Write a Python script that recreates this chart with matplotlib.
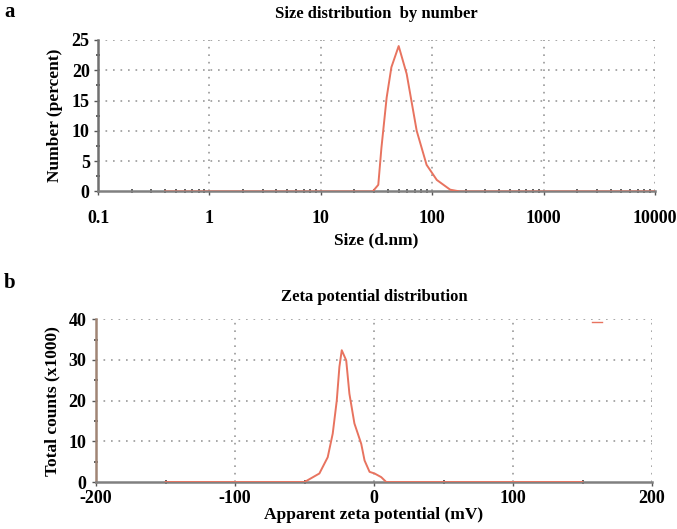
import matplotlib
matplotlib.use("Agg")
import matplotlib.pyplot as plt
from matplotlib.ticker import FixedLocator, NullFormatter, LogLocator

plt.rcParams['font.family'] = ['Liberation Serif', 'DejaVu Serif']
plt.rcParams['font.weight'] = 'bold'
plt.rcParams['axes.unicode_minus'] = False

# Panel a: size distribution by number
size_nm = [0.4, 29.2, 32.8, 35, 39, 43, 50, 59, 72.6, 89, 110, 145, 178, 10000]
number_pct = [0, 0, 1.1, 7.2, 15.5, 20.5, 24, 19.4, 10, 4.4, 1.9, 0.3, 0, 0]
size_ticks = [0.1, 1, 10, 100, 1000, 10000]
size_ticklabels = ['0.1', '1', '10', '100', '1000', '10000']
pct_ticks = [0, 5, 10, 15, 20, 25]

# Panel b: zeta potential distribution
zeta_mv = [-150, -50, -39.3, -33.3, -29.7, -26.8, -24.9, -23.2, -20.0, -17.7,
           -14.1, -9.2, -6.8, -3.2, 0.4, 5.2, 8.8, 150]
counts_k = [0, 0, 2.1, 6.1, 11.9, 20, 28.3, 32.4, 29.9, 21.7,
            14.4, 9.4, 5.3, 2.5, 2.1, 1.2, 0, 0]
zeta_ticks = [-200, -100, 0, 100, 200]
count_ticks = [0, 10, 20, 30, 40]

RED = '#e8735f'
GRID = dict(color='#9a9a9a', linestyle=(0, (1, 3.5)), linewidth=1.2)
TF = 13

fig = plt.figure(figsize=(6.77, 5.29), dpi=100)

# ---------- panel a ----------
ax1 = fig.add_axes([0.1448, 0.638, 0.8227, 0.2864])
ax1.plot(size_nm, number_pct, color=RED, lw=1.4, zorder=3)
ax1.set_xscale('log')
ax1.set_xlim(0.1, 10000)
ax1.set_ylim(0, 25)
ax1.set_xticks(size_ticks)
ax1.set_xticklabels(size_ticklabels)
ax1.xaxis.set_minor_locator(LogLocator(base=10, subs=range(2, 10), numticks=50))
ax1.xaxis.set_minor_formatter(NullFormatter())
ax1.set_yticks(pct_ticks)
ax1.yaxis.set_minor_locator(FixedLocator([2.5, 7.5, 12.5, 17.5, 22.5]))
for v in size_ticks[1:]:
    ax1.axvline(v, zorder=1, **GRID)
for v in pct_ticks[1:]:
    ax1.axhline(v, zorder=1, **GRID)
ax1.set_title('Size distribution  by number', fontsize=12, fontweight='bold', pad=16)
ax1.set_xlabel('Size (d.nm)', fontsize=12.5, fontweight='bold', labelpad=4)
ax1.set_ylabel('Number (percent)', fontsize=12.5, fontweight='bold', labelpad=6)

# ---------- panel b ----------
ax2 = fig.add_axes([0.1418, 0.0888, 0.8213, 0.3076])
ax2.plot(zeta_mv, counts_k, color=RED, lw=1.4, zorder=3)
ax2.plot([157, 164], [39.3, 39.3], color=RED, lw=1.0, zorder=3)
ax2.set_xlim(-200, 200)
ax2.set_ylim(0, 40)
ax2.set_xticks(zeta_ticks)
ax2.xaxis.set_minor_locator(FixedLocator([-150, -50, 50, 150]))
ax2.set_yticks(count_ticks)
ax2.yaxis.set_minor_locator(FixedLocator([5, 15, 25, 35]))
for v in zeta_ticks[1:]:
    ax2.axvline(v, zorder=1, **GRID)
for v in count_ticks[1:]:
    ax2.axhline(v, zorder=1, **GRID)
ax2.set_title('Zeta potential distribution', fontsize=12, fontweight='bold', pad=13)
ax2.set_xlabel('Apparent zeta potential (mV)', fontsize=12.5, fontweight='bold', labelpad=0)
ax2.set_ylabel('Total counts (x1000)', fontsize=12.5, fontweight='bold', labelpad=6)

for ax, lc in ((ax1, '#707070'), (ax2, '#a08575')):
    for s in ('top', 'right'):
        ax.spines[s].set_visible(False)
    ax.spines['bottom'].set_color('#808080')
    ax.spines['bottom'].set_linewidth(1.8)
    ax.spines['left'].set_color(lc)
    ax.spines['left'].set_linewidth(1.8)
    ax.tick_params(axis='both', which='major', direction='out', length=3, width=1,
                   color='#555555', labelsize=TF, pad=3)
    ax.tick_params(axis='both', which='minor', direction='inout', length=3, width=1.2,
                   color='#444444')
    for lab in ax.get_xticklabels() + ax.get_yticklabels():
        lab.set_fontweight('bold')
    ax.set_facecolor('white')

ax1.tick_params(axis='x', which='major', pad=10)
ax2.tick_params(axis='x', which='major', pad=3)
ax2.tick_params(axis='y', which='major', pad=4)

fig.text(0.006, 0.978, 'a', fontsize=15, fontweight='bold', va='center', ha='left')
fig.text(0.006, 0.465, 'b', fontsize=15, fontweight='bold', va='center', ha='left')

fig.savefig('out.png', dpi=100)
